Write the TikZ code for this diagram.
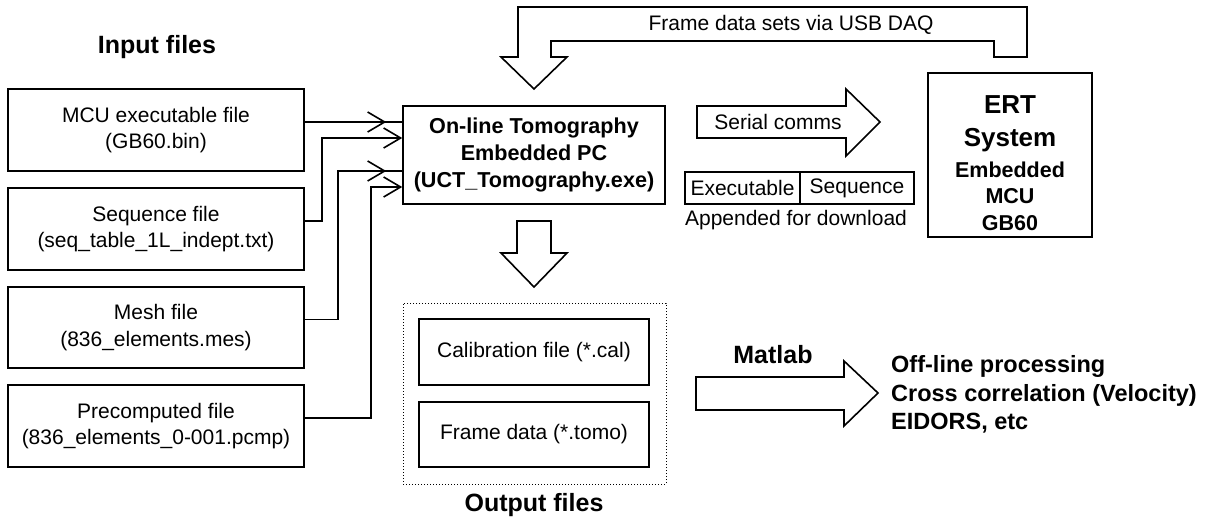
\documentclass[tikz,border=0pt]{standalone}
\usepackage{fontspec}
\setmainfont{Liberation Sans}
\usepackage{tikz}
\usetikzlibrary{arrows.meta}

\tikzset{
        filebox/.style={shape=rectangle, draw=black, line width=1.6pt, align=center, font=\fontsize{21}{26.7}\selectfont},
        plain/.style={font=\fontsize{21}{26.7}\selectfont, inner sep=0pt},
        heading/.style={font=\fontsize{25}{30}\selectfont\bfseries, inner sep=0pt},
        feed/.style={line width=1.6pt, -{Straight Barb[length=17pt,width=20pt]}},
        wire/.style={line width=1.6pt},
        bigarrow/.style={draw=black, line width=1.6pt, line join=miter},
}
\newcommand{\ertbig}{\fontsize{26}{34}\selectfont}

\begin{document}
\begin{tikzpicture}[x=1pt, y=-1pt]
        \useasboundingbox (0,0) rectangle (1211,519);

        \node[heading] (inputs) at (157,47) {Input files};
        \node[filebox, minimum width=296pt, minimum height=82pt] (mcu) at (156,130) {MCU executable file\\(GB60.bin)};
        \node[filebox, minimum width=296pt, minimum height=82pt] (seqfile) at (156,229) {Sequence file\\(seq\_table\_1L\_indept.txt)};
        \node[filebox, minimum width=296pt, minimum height=81pt] (mesh) at (156,327.5) {Mesh file\\(836\_elements.mes)};
        \node[filebox, minimum width=296pt, minimum height=82pt] (pcmp) at (156,426) {Precomputed file\\(836\_elements\_0-001.pcmp)};

        \node[filebox, font=\fontsize{21.6}{26.7}\selectfont\bfseries, minimum width=262pt, minimum height=98pt] (tomo) at (534,155) {On-line Tomography\\Embedded PC\\(UCT\_Tomography.exe)};

        \node[filebox, minimum width=164pt, minimum height=164pt] (ert) at (1010,155) {};
        \node[align=center, inner sep=0pt, font=\fontsize{21.5}{26.5}\selectfont\bfseries] (ertname) at (1010,163)
                {{\ertbig ERT}\\[7pt]{\ertbig System}\\[4pt]Embedded\\MCU\\GB60};

        \node[filebox, inner sep=0pt, minimum width=115pt, minimum height=32pt] (exe) at (742.5,188) {Executable};
        \node[filebox, inner sep=0pt, minimum width=114pt, minimum height=32pt] (seq) at (857,188) {Sequence};
        \node[plain] (appended) at (796,220) {Appended for download};

        \node[draw=black, dotted, line width=1pt, minimum width=263pt, minimum height=181pt] (outgroup) at (534.5,393.5) {};
        \node[filebox, minimum width=230pt, minimum height=66pt] (cal) at (534,352) {Calibration file (*.cal)};
        \node[filebox, minimum width=230pt, minimum height=65pt] (frames) at (534,434.5) {Frame data (*.tomo)};
        \node[heading] (outputs) at (534,505) {Output files};

        % block arrows
        \draw[bigarrow] (518,7) -- (1027,7) -- (1027,57) -- (994,57) -- (994,41) -- (551,41) -- (551,57)
                -- (567,57) -- (534,89) -- (501,57) -- (518,57) -- cycle;
        \node[plain] (usb) at (791,25) {Frame data sets via USB DAQ};

        \draw[bigarrow] (697,106) -- (846,106) -- (846,89) -- (880,122) -- (846,156) -- (846,138) -- (697,138) -- cycle;
        \node[plain] (serial) at (778,122) {Serial comms};

        \draw[bigarrow] (517,221) -- (551,221) -- (551,253) -- (567,253) -- (534,287) -- (501,253) -- (517,253) -- cycle;

        \draw[bigarrow] (696,377) -- (844,377) -- (844,361) -- (878,393) -- (844,426) -- (844,410) -- (696,410) -- cycle;
        \node[heading] (matlab) at (773,355) {Matlab};
        \node[font=\fontsize{23.5}{28.7}\selectfont\bfseries, align=left, anchor=west, inner sep=0pt] (offline) at (891,394.5) {Off-line processing\\Cross correlation (Velocity)\\EIDORS, etc};

        % input connectors
        \draw[wire] ([yshift=8pt]mcu.east) -- ([yshift=33pt]tomo.west);
        \draw[feed, shorten >=16pt] ([yshift=8pt]mcu.east) -- ([yshift=33pt]tomo.west);
        \draw[feed] ([yshift=8pt]seqfile.east) -- ++(17,0) |- ([yshift=17pt]tomo.west);
        \draw[wire] ([yshift=8pt]mesh.east) -- ++(33,0) |- ([yshift=-16pt]tomo.west);
        \draw[feed, shorten >=16pt] ([yshift=8pt]mesh.east) -- ++(33,0) |- ([yshift=-16pt]tomo.west);
        \draw[feed] ([yshift=8pt]pcmp.east) -- ++(66,0) |- ([yshift=-32pt]tomo.west);
\end{tikzpicture}
\end{document}
